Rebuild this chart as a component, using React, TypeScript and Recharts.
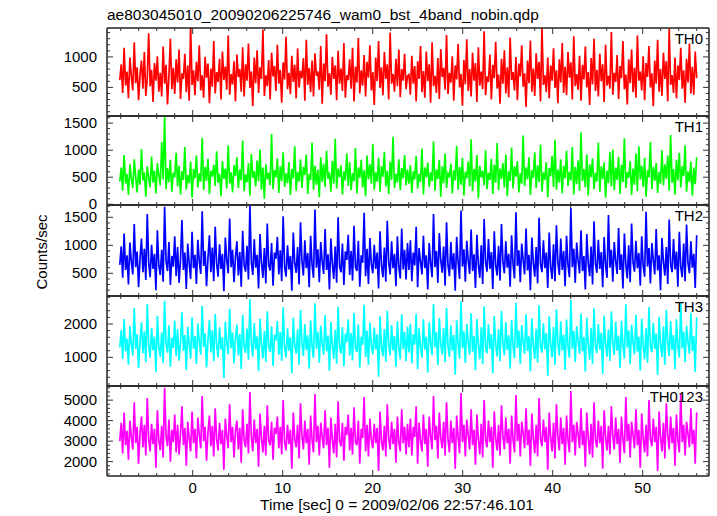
import { LineChart, Line, XAxis, YAxis } from "recharts";

// time range covered by the light curves (sec)
const T_START = -8.1;
const T_END = 56.0;

const X_TICKS = [-8, -6, -4, -2, 0, 2, 4, 6, 8, 10, 12, 14, 16, 18, 20, 22, 24, 26, 28, 30, 32, 34, 36, 38, 40, 42, 44, 46, 48, 50, 52, 54, 56];
const X_LABELS = [0, 10, 20, 30, 40, 50];

const TH0 = [
  620, 880, 410, 1150, 530, 760, 320, 990, 680, 450, 1240, 570, 830, 290, 710, 940, 480, 1080, 360, 650,
  1390, 520, 790, 260, 900, 610, 1010, 430, 740, 350, 1170, 560, 870, 220, 690, 1300, 470, 820, 390, 960,
  580, 1120, 310, 730, 640, 1050, 420, 860, 280, 1520, 540, 780, 370, 920, 600, 1190, 450, 700, 330, 1000,
  660, 890, 240, 810, 510, 1260, 400, 750, 590, 970, 300, 1090, 620, 840, 460, 1350, 380, 720, 550, 930,
  270, 1040, 670, 800, 430, 1160, 350, 880, 610, 1220, 490, 760, 190, 990, 570, 1110, 410, 830, 640, 1450,
  360, 700, 520, 950, 300, 1070, 680, 850, 440, 1200, 560, 790, 250, 910, 630, 1330, 470, 740, 390, 1020,
  590, 870, 320, 1140, 500, 770, 650, 980, 280, 1280, 540, 820, 420, 940, 350, 1060, 690, 760, 460, 1180,
  230, 890, 600, 1370, 510, 730, 380, 1000, 640, 860, 290, 1100, 560, 810, 440, 1230, 330, 700, 620, 960,
  480, 1150, 270, 840, 580, 1310, 400, 780, 530, 1030, 350, 920, 660, 1190, 450, 750, 210, 990, 600, 1260,
  490, 830, 370, 1080, 640, 880, 300, 1400, 560, 720, 430, 970, 520, 1120, 340, 800, 610, 1050, 470, 690,
  710, 380, 1020, 560, 850, 270, 930, 640, 1180, 420, 770, 330, 1090, 600, 880, 250, 1240, 520, 690, 410,
  980, 310, 1130, 670, 820, 460, 1360, 390, 740, 580, 1010, 280, 860, 630, 1210, 500, 720, 200, 950, 550,
  1290, 440, 800, 350, 1070, 610, 900, 260, 1160, 530, 760, 470, 1420, 370, 680, 590, 1040, 300, 870, 650,
  1250, 480, 710, 230, 970, 560, 1110, 400, 830, 340, 1320, 620, 750, 450, 1000, 290, 890, 680, 1190, 510,
  730, 180, 940, 570, 1270, 430, 810, 360, 1060, 640, 920, 270, 1480, 540, 700, 420, 990, 320, 860, 610,
  1140, 490, 780, 240, 960, 580, 1230, 410, 840, 370, 1080, 660, 910, 300, 1340, 520, 720, 460, 1020, 280,
  870, 630, 1170, 500, 750, 210, 980, 550, 1300, 440, 790, 350, 1050, 600, 880, 260, 1200, 530, 690, 480,
  1410, 380, 740, 590, 1030, 310, 850, 650, 1260, 470, 710, 220, 960, 570, 1120, 420, 820, 330, 1350, 610,
  760, 450, 1010, 290, 900, 670, 1180, 500, 730, 190, 940, 560, 1280, 430, 800, 360, 1070, 640, 930, 270,
  1460, 540, 700, 410, 990, 320, 860, 620, 1150, 480, 780, 250, 970, 580, 1220, 400, 840, 380, 1090, 650,
];

const TH1 = [
  420, 680, 250, 910, 380, 560, 170, 740, 470, 300, 830, 510, 220, 640, 360, 1020, 440, 590, 140, 700,
  490, 310, 880, 400, 620, 200, 760, 530, 350, 1150, 460, 1640, 280, 670, 410, 820, 230, 580, 500, 950,
  330, 710, 180, 610, 450, 1060, 270, 540, 390, 790, 120, 650, 480, 900, 310, 570, 420, 1230, 260, 690,
  430, 840, 190, 620, 510, 730, 340, 980, 400, 560, 150, 800, 470, 660, 290, 1090, 380, 590, 220, 720,
  520, 870, 300, 640, 440, 1180, 240, 550, 410, 760, 160, 930, 490, 610, 330, 810, 420, 1010, 270, 680,
  100, 740, 460, 580, 350, 1300, 280, 630, 500, 850, 210, 700, 430, 960, 320, 570, 390, 780, 170, 650,
  480, 1070, 250, 600, 420, 830, 300, 690, 540, 920, 190, 560, 450, 1140, 270, 710, 360, 640, 130, 870,
  410, 750, 320, 990, 470, 590, 230, 800, 380, 1210, 290, 660, 500, 720, 180, 610, 440, 940, 340, 780,
  260, 570, 430, 1040, 200, 680, 490, 820, 310, 630, 150, 900, 460, 740, 380, 1120, 270, 590, 420, 860,
  230, 700, 510, 970, 330, 620, 190, 790, 450, 1250, 300, 560, 400, 830, 260, 670, 480, 910, 350, 640,
  380, 720, 210, 610, 460, 890, 290, 560, 410, 1030, 180, 680, 500, 770, 320, 590, 430, 1160, 250, 640,
  470, 820, 140, 700, 390, 940, 300, 570, 520, 750, 200, 630, 440, 1080, 270, 690, 360, 860, 160, 600,
  480, 790, 330, 1200, 240, 650, 420, 910, 110, 710, 500, 620, 350, 1000, 280, 580, 450, 840, 190, 730,
  400, 1130, 260, 660, 470, 760, 310, 920, 150, 610, 430, 1050, 290, 700, 510, 800, 220, 570, 380, 1270,
  340, 680, 460, 870, 170, 630, 490, 960, 300, 720, 410, 1100, 230, 590, 450, 780, 130, 670, 520, 890,
  320, 1190, 270, 640, 400, 830, 200, 710, 480, 990, 340, 600, 440, 1060, 180, 690, 370, 810, 250, 1330,
  430, 650, 310, 920, 160, 740, 500, 850, 280, 580, 420, 1140, 230, 700, 470, 770, 120, 620, 390, 970,
  330, 1010, 260, 680, 450, 880, 190, 730, 410, 1220, 300, 590, 490, 800, 170, 660, 360, 940, 240, 1070,
  460, 710, 320, 860, 140, 630, 500, 1150, 280, 690, 430, 760, 210, 600, 380, 1000, 350, 740, 470, 900,
  250, 1280, 400, 650, 180, 820, 440, 950, 310, 700, 520, 1090, 230, 610, 410, 790, 160, 680, 370, 870,
];

const TH2 = [
  650, 980, 420, 1210, 560, 820, 300, 1050, 700, 480, 1380, 610, 890, 250, 760, 1120, 520, 940, 380, 1560,
  690, 430, 1010, 580, 850, 200, 1270, 640, 470, 920, 350, 1690, 720, 540, 1060, 290, 810, 620, 1160, 450,
  970, 330, 740, 1450, 560, 870, 220, 1030, 680, 400, 1240, 590, 830, 310, 1100, 710, 490, 1610, 630, 900,
  270, 780, 1180, 520, 960, 360, 1330, 670, 440, 1020, 580, 850, 180, 1140, 730, 500, 1480, 610, 920, 340,
  790, 1070, 460, 880, 260, 1260, 650, 530, 990, 390, 1700, 700, 470, 1110, 600, 830, 230, 1200, 690, 420,
  950, 320, 1390, 640, 550, 1040, 280, 870, 760, 1150, 480, 910, 360, 1520, 620, 440, 1000, 570, 810, 190,
  1230, 680, 510, 970, 300, 1410, 720, 460, 1090, 590, 860, 250, 1170, 650, 420, 1640, 600, 930, 340, 1060,
  710, 490, 1290, 560, 840, 210, 1120, 670, 400, 980, 330, 1500, 630, 520, 1030, 290, 890, 740, 1190, 470,
  900, 370, 1350, 610, 540, 1080, 260, 820, 690, 1580, 450, 940, 310, 1130, 660, 500, 1010, 580, 870, 230,
  1250, 640, 430, 960, 350, 1440, 700, 480, 1070, 590, 850, 270, 1160, 620, 410, 1300, 570, 920, 390, 1040,
  560, 1090, 360, 870, 640, 1330, 250, 950, 710, 480, 1170, 590, 820, 210, 1040, 680, 430, 1560, 610, 900,
  330, 1220, 730, 510, 980, 280, 1410, 650, 450, 1060, 570, 860, 190, 1150, 700, 400, 1620, 620, 930, 350,
  1080, 720, 490, 1280, 540, 840, 240, 1190, 660, 420, 1000, 310, 1470, 690, 530, 1110, 580, 880, 220, 1250,
  640, 460, 990, 370, 1380, 710, 500, 1070, 600, 850, 260, 1180, 670, 410, 1590, 630, 910, 340, 1030, 730,
  480, 1300, 550, 830, 200, 1140, 690, 440, 970, 320, 1490, 660, 520, 1090, 590, 870, 240, 1230, 620, 400,
  1020, 360, 1360, 700, 470, 1120, 560, 900, 270, 1170, 650, 430, 1670, 610, 940, 330, 1050, 720, 500, 1270,
  540, 810, 210, 1200, 680, 450, 980, 300, 1430, 670, 510, 1100, 580, 880, 250, 1150, 640, 420, 1540, 600,
  920, 350, 1060, 710, 490, 1310, 560, 840, 230, 1210, 660, 410, 1000, 340, 1390, 690, 530, 1080, 590, 860,
  280, 1160, 630, 440, 1600, 620, 950, 320, 1040, 730, 480, 1290, 550, 820, 200, 1130, 700, 460, 970, 310,
  1460, 650, 520, 1110, 570, 890, 260, 1240, 610, 430, 1030, 360, 1370, 680, 500, 1070, 600, 850, 240, 1180,
];

const TH3 = [
  1300, 1820, 950, 2150, 1180, 1560, 780, 1940, 1400, 1050, 2480, 1250, 1700, 680, 1480, 2050, 1120, 1780, 850, 2600,
  1350, 990, 1880, 1210, 1620, 560, 2250, 1330, 1010, 1750, 830, 2700, 1420, 1140, 1960, 720, 1590, 1280, 2100, 1030,
  1850, 900, 1460, 2350, 1190, 1670, 620, 1920, 1380, 960, 2200, 1260, 1640, 800, 2020, 1450, 1080, 2550, 1310, 1720,
  700, 1530, 2120, 1150, 1810, 880, 2300, 1360, 1000, 1900, 1230, 1610, 380, 2070, 1440, 1090, 2450, 1270, 1740, 820,
  1570, 1980, 1060, 1700, 650, 2280, 1340, 1130, 1860, 930, 2750, 1410, 1020, 2030, 1240, 1630, 590, 2160, 1390, 970,
  1790, 860, 2380, 1320, 1170, 1930, 740, 1680, 1500, 2090, 1070, 1760, 890, 2500, 1290, 1000, 1870, 1200, 1600, 520,
  2190, 1370, 1110, 1840, 780, 2420, 1430, 1040, 2000, 1220, 1660, 660, 2110, 1330, 980, 2620, 1260, 1770, 840, 1950,
  1400, 1080, 2270, 1180, 1650, 600, 2060, 1350, 950, 1830, 810, 2520, 1300, 1120, 1910, 730, 1710, 1460, 2140, 1050,
  1730, 910, 2330, 1280, 1160, 1990, 690, 1620, 1380, 2580, 1010, 1800, 780, 2040, 1340, 1090, 1890, 1230, 1690, 420,
  2230, 1310, 1030, 1850, 870, 2400, 1390, 1060, 1970, 1210, 1640, 710, 2080, 1270, 940, 2290, 1250, 1760, 880, 1920,
  1150, 2010, 820, 1690, 1380, 2300, 640, 1870, 1290, 990, 2140, 1230, 1620, 540, 2050, 1440, 1070, 2600, 1300, 1750,
  760, 2180, 1400, 1090, 1880, 850, 2480, 1340, 1010, 1960, 1200, 1670, 480, 2110, 1420, 960, 2680, 1270, 1780, 830,
  2000, 1450, 1080, 2320, 1170, 1640, 610, 2150, 1360, 940, 1900, 790, 2530, 1320, 1120, 1990, 1250, 1700, 520, 2240,
  1390, 1030, 1850, 880, 2400, 1410, 1060, 2060, 1220, 1660, 660, 2120, 1350, 970, 2640, 1280, 1800, 800, 1970, 1460,
  1100, 2290, 1190, 1630, 580, 2170, 1370, 950, 1860, 840, 2560, 1330, 1140, 2020, 1240, 1720, 450, 2230, 1400, 1000,
  1920, 770, 2440, 1430, 1050, 2080, 1210, 1680, 620, 2130, 1340, 980, 2720, 1260, 1790, 860, 1940, 1470, 1110, 2310,
  1180, 1610, 570, 2190, 1380, 930, 1890, 810, 2470, 1310, 1130, 2000, 1230, 1740, 500, 2250, 1390, 1020, 1840, 890,
  2380, 1420, 1070, 2070, 1200, 1650, 680, 2100, 1360, 960, 2590, 1290, 1810, 790, 1980, 1450, 1090, 2280, 1170, 1620,
  600, 2160, 1350, 940, 1870, 830, 2510, 1320, 1150, 2030, 1250, 1710, 470, 2210, 1410, 1010, 1930, 780, 2420, 1440,
  1040, 2090, 1220, 1670, 640, 2140, 1330, 990, 2660, 1270, 1770, 850, 1950, 1460, 1100, 2340, 1190, 1640, 560, 2200,
];

const TH0123 = [
  3000, 3900, 2400, 4400, 2800, 3500, 2100, 4000, 3200, 2600, 4900, 2900, 3700, 1900, 3400, 4200, 2700, 3800, 2300, 5100,
  3100, 2500, 3850, 2850, 3600, 1700, 4500, 3050, 2550, 3750, 2200, 5600, 3250, 2750, 4050, 2000, 3550, 2950, 4300, 2450,
  3800, 2350, 3350, 4700, 2800, 3650, 1800, 3950, 3150, 2500, 4450, 2900, 3600, 2150, 4150, 3300, 2650, 5200, 3000, 3700,
  2050, 3450, 4250, 2750, 3750, 2250, 4600, 3100, 2550, 3900, 2850, 3550, 1600, 4100, 3250, 2650, 4800, 2950, 3700, 2200,
  3500, 4000, 2600, 3650, 1950, 4550, 3050, 2700, 3850, 2400, 5400, 3200, 2500, 4050, 2900, 3600, 1750, 4350, 3150, 2450,
  3750, 2300, 4750, 3000, 2800, 3950, 2100, 3650, 3350, 4200, 2650, 3700, 2350, 5000, 2950, 2550, 3800, 2850, 3550, 1650,
  4400, 3100, 2700, 3800, 2150, 4850, 3250, 2600, 4000, 2900, 3600, 1850, 4250, 3050, 2450, 5300, 2950, 3750, 2300, 3900,
  3200, 2650, 4500, 2800, 3650, 1700, 4150, 3100, 2400, 3850, 2200, 4950, 3000, 2750, 3900, 2050, 3700, 3300, 4300, 2550,
  3650, 2350, 4650, 2950, 2800, 4000, 1900, 3600, 3150, 5150, 2500, 3800, 2250, 4100, 3050, 2650, 3850, 2900, 3650, 1550,
  4450, 3000, 2550, 3750, 2250, 4800, 3150, 2600, 3950, 2850, 3600, 1950, 4200, 2950, 2500, 4550, 2900, 3700, 2350, 3850,
  2700, 4100, 2300, 3700, 3200, 4700, 1900, 3900, 3000, 2500, 4300, 2850, 3600, 1750, 4200, 3250, 2600, 5200, 3050, 3750,
  2150, 4400, 3150, 2650, 3950, 2300, 4900, 3100, 2450, 4000, 2900, 3650, 1650, 4250, 3200, 2400, 5350, 2950, 3800, 2250,
  4050, 3300, 2600, 4550, 2800, 3550, 1850, 4300, 3100, 2350, 3850, 2200, 5000, 3050, 2700, 4000, 2950, 3700, 1700, 4450,
  3150, 2550, 3800, 2300, 4750, 3250, 2600, 4150, 2900, 3600, 1900, 4250, 3100, 2450, 5250, 3000, 3850, 2250, 3950, 3350,
  2650, 4600, 2800, 3550, 1800, 4350, 3150, 2400, 3800, 2250, 5100, 3100, 2750, 4050, 2950, 3700, 1600, 4400, 3200, 2500,
  3900, 2150, 4800, 3250, 2550, 4150, 2850, 3650, 1850, 4250, 3050, 2450, 5450, 2950, 3800, 2300, 3950, 3350, 2650, 4600,
  2800, 3500, 1750, 4400, 3150, 2350, 3850, 2200, 4900, 3050, 2700, 4000, 2900, 3750, 1650, 4500, 3200, 2550, 3750, 2350,
  4700, 3250, 2600, 4150, 2850, 3600, 1950, 4200, 3100, 2400, 5150, 3000, 3850, 2200, 3950, 3300, 2650, 4550, 2800, 3550,
  1700, 4350, 3150, 2450, 3800, 2250, 5000, 3100, 2750, 4100, 2950, 3700, 1550, 4450, 3200, 2500, 3900, 2150, 4850, 3300,
  2600, 4200, 2900, 3650, 1800, 4300, 3050, 2450, 5300, 2950, 3800, 2300, 3950, 3350, 2700, 4600, 2850, 3550, 1900, 4400,
];

const TH0_LABELS = [500, 1000];
const TH1_LABELS = [0, 500, 1000, 1500];
const TH2_LABELS = [500, 1000, 1500];
const TH3_LABELS = [1000, 2000];
const TH0123_LABELS = [2000, 3000, 4000, 5000];

const FONT = "'Liberation Sans', Arial, Helvetica, sans-serif";
const X_DOMAIN: [number, number] = [-9.52, 57.37];
const PAD = 12;
const FRAME = { stroke: "#222", strokeWidth: 1.5 };

const panels = [
  { name: "TH0", values: TH0, labels: TH0_LABELS, color: "#ff0000", top: 28, bottom: 116, domain: [30, 1475], minor: 100 },
  { name: "TH1", values: TH1, labels: TH1_LABELS, color: "#00ff00", top: 116, bottom: 205, domain: [-14, 1632], minor: 100 },
  { name: "TH2", values: TH2, labels: TH2_LABELS, color: "#0000ff", top: 205, bottom: 296, domain: [95, 1720], minor: 100 },
  { name: "TH3", values: TH3, labels: TH3_LABELS, color: "#00ffff", top: 296, bottom: 386, domain: [140, 2840], minor: 200 },
  { name: "TH0123", values: TH0123, labels: TH0123_LABELS, color: "#ff00ff", top: 386, bottom: 476, domain: [1300, 5690], minor: 200 },
];

function toRows(values: number[]) {
  const dt = (T_END - T_START) / (values.length - 1);
  return values.map((v, i) => ({ t: T_START + i * dt, v }));
}

function minorTicks(domain: number[], step: number) {
  const out: number[] = [];
  for (let v = Math.ceil(domain[0] / step) * step; v <= domain[1]; v += step) out.push(v);
  return out;
}

function XTick(props: any) {
  const { x, y, payload, side, showLabel } = props;
  const major = X_LABELS.includes(payload.value);
  const len = major ? 6 : 3;
  const dir = side === "bottom" ? -1 : 1;
  return (
    <g>
      <line x1={x} x2={x} y1={y} y2={y + dir * len} stroke="#333" strokeWidth={1} />
      {showLabel && major && (
        <text x={x} y={y + 17} textAnchor="middle" fontFamily={FONT} fontSize={15} fill="#000">
          {payload.value}
        </text>
      )}
    </g>
  );
}

function YTick(props: any) {
  const { x, y, payload, side, labels } = props;
  const major = labels.includes(payload.value);
  const len = major ? 6 : 3;
  const dir = side === "left" ? 1 : -1;
  return (
    <g>
      <line x1={x} x2={x + dir * len} y1={y} y2={y} stroke="#333" strokeWidth={1} />
      {side === "left" && major && (
        <text x={x - 10} y={y + 5} textAnchor="end" fontFamily={FONT} fontSize={15} fill="#000">
          {payload.value}
        </text>
      )}
    </g>
  );
}

export default function App() {
  return (
    <div style={{ position: "absolute", left: 0, top: 0, width: 717, height: 516, background: "#fff" }}>
      {panels.map((p, idx) => {
        const last = idx === panels.length - 1;
        const h = p.bottom - p.top;
        const bottomAxis = last ? 30 : 1;
        const yTicks = minorTicks(p.domain, p.minor);
        return (
          <div key={p.name} style={{ position: "absolute", left: 0, top: p.top - PAD }}>
            <LineChart
              width={717}
              height={h + PAD * 2 + bottomAxis - 1}
              data={toRows(p.values)}
              margin={{ top: PAD - 1, bottom: PAD - 1, left: 0, right: 0 }}
            >
              <XAxis
                xAxisId="b"
                dataKey="t"
                type="number"
                domain={X_DOMAIN}
                allowDataOverflow
                ticks={X_TICKS}
                interval={0}
                height={bottomAxis}
                tickSize={0}
                tickMargin={0}
                tickLine={false}
                axisLine={FRAME}
                tick={(tp: any) => <XTick {...tp} side="bottom" showLabel={last} />}
              />
              <XAxis
                xAxisId="t"
                orientation="top"
                dataKey="t"
                type="number"
                domain={X_DOMAIN}
                allowDataOverflow
                ticks={X_TICKS}
                interval={0}
                height={1}
                tickSize={0}
                tickMargin={0}
                tickLine={false}
                axisLine={FRAME}
                tick={(tp: any) => <XTick {...tp} side="top" showLabel={false} />}
              />
              <YAxis
                yAxisId="l"
                type="number"
                domain={p.domain}
                allowDataOverflow
                ticks={yTicks}
                interval={0}
                width={107}
                tickSize={0}
                tickMargin={0}
                tickLine={false}
                axisLine={FRAME}
                tick={(tp: any) => <YTick {...tp} side="left" labels={p.labels} />}
              />
              <YAxis
                yAxisId="r"
                orientation="right"
                type="number"
                domain={p.domain}
                allowDataOverflow
                ticks={yTicks}
                interval={0}
                width={8}
                tickSize={0}
                tickMargin={0}
                tickLine={false}
                axisLine={FRAME}
                tick={(tp: any) => <YTick {...tp} side="right" labels={p.labels} />}
              />
              <Line
                xAxisId="b"
                yAxisId="l"
                dataKey="v"
                type="linear"
                stroke={p.color}
                strokeWidth={1.7}
                strokeLinejoin="miter"
                dot={false}
                isAnimationActive={false}
              />
            </LineChart>
          </div>
        );
      })}
      <svg
        width={717}
        height={516}
        style={{ position: "absolute", left: 0, top: 0, pointerEvents: "none" }}
        fontFamily={FONT}
        fontSize={15}
      >
        <text x={107} y={20} fontSize={15.5} fill="#000">ae803045010_20090206225746_wam0_bst_4band_nobin.qdp</text>
        {panels.map((p) => (
          <text key={p.name} x={703} y={p.top + 16} textAnchor="end" fill="#000">
            {p.name}
          </text>
        ))}
        <text x={47} y={252} textAnchor="middle" transform="rotate(-90 47 252)" fill="#000">
          Counts/sec
        </text>
        <text x={397} y={510} textAnchor="middle" fontSize={15.5} fill="#000">
          Time [sec] 0 = 2009/02/06 22:57:46.101
        </text>
      </svg>
    </div>
  );
}
